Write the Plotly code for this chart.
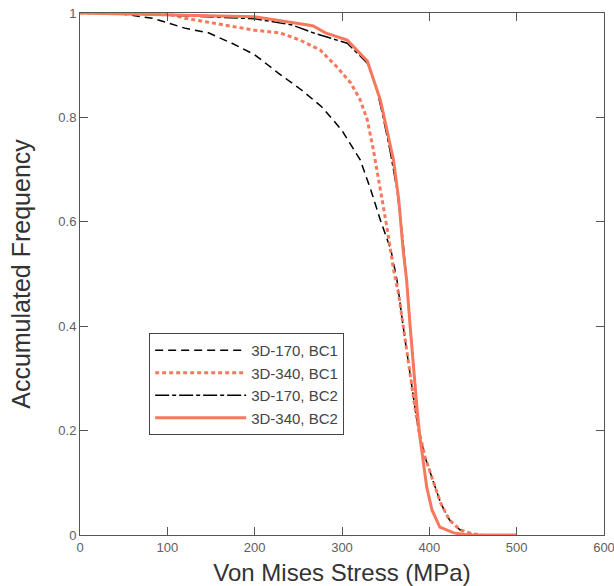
import plotly.graph_objects as go

# 3D-170, BC1 (black dashed)
bc1_170_x = [0, 40, 83, 120, 147, 174, 200, 227, 254, 277, 300, 321, 333, 344, 356, 363, 370, 377, 383, 388, 395, 404, 413, 423, 435, 450]
bc1_170_y = [1, 1, 0.99, 0.971, 0.962, 0.942, 0.92, 0.885, 0.852, 0.82, 0.775, 0.718, 0.661, 0.603, 0.546, 0.488, 0.40, 0.316, 0.25, 0.2, 0.15, 0.105, 0.061, 0.029, 0.01, 0]

# 3D-340, BC1 (orange dotted)
bc1_340_x = [0, 97, 120, 166, 200, 229, 252, 275, 294, 310, 321, 329, 336, 344, 352, 359, 365, 371, 377, 383, 388, 395, 404, 413, 423, 435, 450, 460]
bc1_340_y = [1, 1, 0.99, 0.977, 0.967, 0.962, 0.948, 0.929, 0.897, 0.866, 0.833, 0.795, 0.737, 0.661, 0.584, 0.508, 0.46, 0.39, 0.316, 0.25, 0.2, 0.15, 0.105, 0.061, 0.029, 0.01, 0.002, 0]

# 3D-170, BC2 (black dash-dot)
bc2_170_x = [0, 40, 200, 229, 243, 267, 306, 329, 340, 347, 355, 363, 369, 374, 378, 382, 386, 389, 392, 397, 403, 412, 428, 440]
bc2_170_y = [1, 1, 0.989, 0.98, 0.977, 0.962, 0.942, 0.904, 0.853, 0.801, 0.737, 0.661, 0.578, 0.488, 0.40, 0.316, 0.24, 0.19, 0.15, 0.092, 0.048, 0.015, 0.004, 0]

# 3D-340, BC2 (orange solid)
bc2_340_x = [0, 200, 261, 267, 281, 306, 329, 344, 359, 365, 370, 374, 378, 382, 386, 389, 392, 397, 403, 412, 428, 445, 500]
bc2_340_y = [1, 0.993, 0.977, 0.975, 0.962, 0.948, 0.908, 0.833, 0.718, 0.642, 0.546, 0.488, 0.40, 0.316, 0.24, 0.19, 0.15, 0.092, 0.048, 0.015, 0.004, 0, 0]

x_ticks = [0, 100, 200, 300, 400, 500, 600]
y_ticks = [0, 0.2, 0.4, 0.6, 0.8, 1]
y_tick_labels = ["0", "0.2", "0.4", "0.6", "0.8", "1"]

ORANGE = "#F7785C"
FONT = "Liberation Sans, Arial"

fig = go.Figure()
fig.add_trace(go.Scatter(x=bc1_170_x, y=bc1_170_y, mode="lines", name="3D-170, BC1",
                         line=dict(color="black", width=1.5, dash="8px,5px")))
fig.add_trace(go.Scatter(x=bc1_340_x, y=bc1_340_y, mode="lines", name="3D-340, BC1",
                         line=dict(color=ORANGE, width=3, dash="4px,3px")))
fig.add_trace(go.Scatter(x=bc2_170_x, y=bc2_170_y, mode="lines", name="3D-170, BC2",
                         line=dict(color="black", width=1.5, dash="14px,3px,4px,3px")))
fig.add_trace(go.Scatter(x=bc2_340_x, y=bc2_340_y, mode="lines", name="3D-340, BC2",
                         line=dict(color=ORANGE, width=3)))

axis_common = dict(showgrid=False, zeroline=False, showline=True, linecolor="#555555", linewidth=1,
                   mirror="ticks", ticks="inside", ticklen=8, tickcolor="#555555",
                   automargin=False, ticklabeloverflow="allow",
                   tickfont=dict(family=FONT, size=13, color="#606060"))

fig.update_xaxes(range=[0, 600], tickvals=x_ticks, ticktext=[str(v) for v in x_ticks],
                 title=dict(text="Von Mises Stress (MPa)", font=dict(family=FONT, size=24, color="#333333"), standoff=10),
                 **axis_common)
fig.update_yaxes(range=[0, 1], tickvals=y_ticks, ticktext=y_tick_labels,
                 title=dict(text="Accumulated Frequency", font=dict(family=FONT, size=25, color="#333333"), standoff=20),
                 **axis_common)

fig.update_layout(
    width=614, height=586,
    margin=dict(l=80, r=10, t=13, b=51),
    plot_bgcolor="white", paper_bgcolor="white",
    legend=dict(x=0.132, y=0.387, xanchor="left", yanchor="top",
                bordercolor="#444444", borderwidth=1, bgcolor="white",
                font=dict(family=FONT, size=15, color="#444444"),
                tracegroupgap=0, itemwidth=91),
    showlegend=True,
)

fig.write_html("out.html")
